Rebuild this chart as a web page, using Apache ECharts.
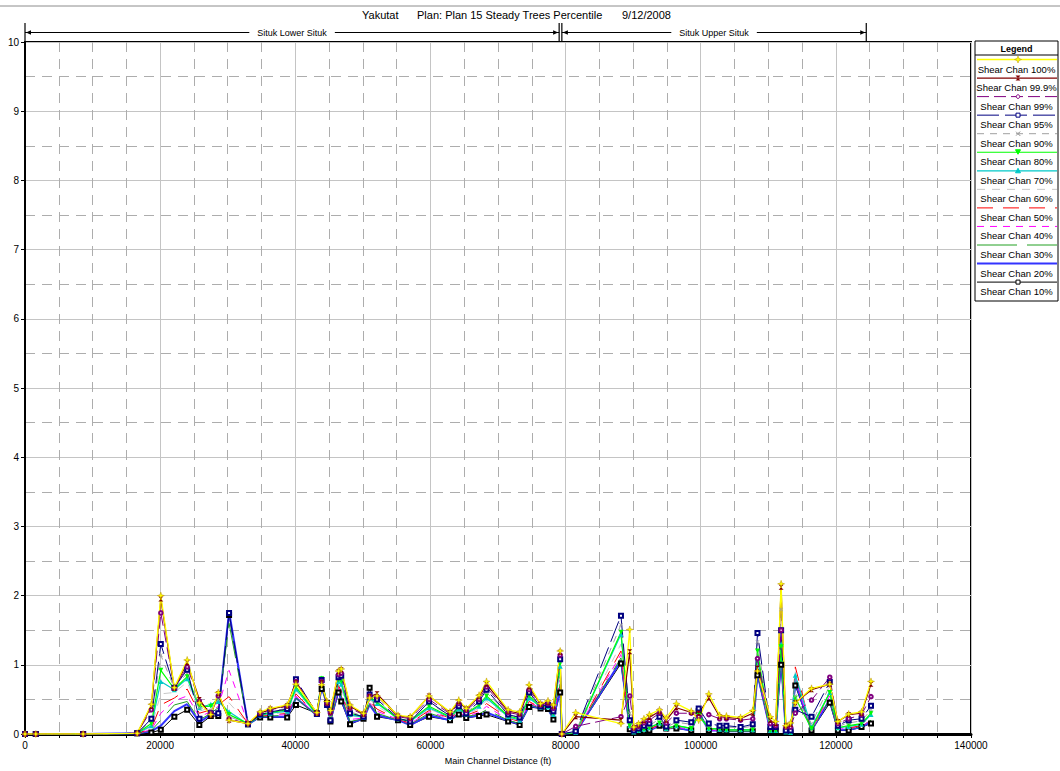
<!DOCTYPE html>
<html>
<head>
<meta charset="utf-8">
<script src="https://cdn.jsdelivr.net/npm/echarts@6/dist/echarts.min.js"></script>
<style>
html, body { margin: 0; padding: 0; background: #fff; }
#chart { width: 1060px; height: 771px; }
</style>
</head>
<body>
<div id="chart"></div>
<script>
// Cross-section stations along the main channel (ft)
const stations = [
  0, 1600, 8600, 16600, 18700, 20100, 22100, 24000, 25800, 27500,
  28600, 30200, 33000, 34800, 36300, 38800, 40100, 43200, 43900, 44700,
  45200, 46400, 46800, 48100, 50100, 51000, 52100, 55200, 57000, 59800,
  62900, 64200, 65300, 67200, 68300, 71500, 73200, 74600, 76300, 77400,
  78200, 79200, 79450, 81500, 88200, 89500, 90100, 90800, 91600, 92400,
  93900, 94900, 96400, 98600, 99700, 101200, 102800, 103800, 105900, 107700,
  108400, 110300, 111100, 111900, 112600, 113300, 114000, 116400, 119100, 120300,
  121900, 123800, 125200
];

// Channel shear (lb/sq ft) for each percentile profile
const shear100 = [
  0, 0, 0, 0.01, 0.43, 2.00, 0.67, 1.07, 0.45, 0.28,
  0.60, 0.20, 0.15, 0.32, 0.37, 0.42, 0.72, 0.31, 0.71, 0.47,
  0.34, 0.91, 0.94, 0.42, 0.30, 0.52, 0.55, 0.27, 0.25, 0.55,
  0.32, 0.49, 0.37, 0.56, 0.76, 0.35, 0.32, 0.71, 0.44, 0.48,
  0.42, 1.20, 0, 0.31, 0.15, 1.51, 0.10, 0.15, 0.22, 0.28,
  0.35, 0.23, 0.44, 0.33, 0.20, 0.58, 0.27, 0.26, 0.24, 0.34,
  0.91, 0.25, 0.18, 2.17, 0.12, 0.16, 0.45, 0.66, 0.72, 0.18,
  0.29, 0.32, 0.76
];
const shear99_9 = [
  0, 0, 0, 0.01, 0.40, 1.95, 0.66, 1.03, 0.50, 0.27,
  0.58, 0.20, 0.15, 0.30, 0.36, 0.41, 0.74, 0.30, 0.74, 0.45,
  0.32, 0.90, 0.93, 0.40, 0.29, 0.54, 0.58, 0.26, 0.24, 0.55,
  0.31, 0.47, 0.36, 0.54, 0.72, 0.33, 0.30, 0.68, 0.43, 0.46,
  0.40, 1.18, 0, 0.25, 0.20, 1.19, 0.09, 0.13, 0.19, 0.24,
  0.33, 0.20, 0.38, 0.31, 0.30, 0.52, 0.25, 0.24, 0.22, 0.30,
  0.95, 0.20, 0.15, 2.12, 0.12, 0.14, 0.45, 0.64, 0.72, 0.18,
  0.28, 0.30, 0.72
];
const shear99 = [
  0, 0, 0, 0.01, 0.35, 1.75, 0.66, 0.97, 0.48, 0.30,
  0.55, 0.22, 0.15, 0.30, 0.35, 0.40, 0.76, 0.30, 0.76, 0.44,
  0.30, 0.86, 0.88, 0.37, 0.28, 0.55, 0.54, 0.25, 0.22, 0.50,
  0.29, 0.44, 0.34, 0.50, 0.68, 0.31, 0.28, 0.64, 0.42, 0.44,
  0.37, 1.14, 0, 0.11, 0.25, 0.55, 0.08, 0.11, 0.16, 0.20,
  0.30, 0.16, 0.30, 0.30, 0.25, 0.28, 0.22, 0.22, 0.20, 0.22,
  1.09, 0.15, 0.12, 1.50, 0.10, 0.10, 0.30, 0.49, 0.82, 0.15,
  0.22, 0.28, 0.54
];
const shear95 = [
  0, 0, 0, 0.01, 0.22, 1.30, 0.67, 0.93, 0.22, 0.30,
  0.30, 1.75, 0.14, 0.28, 0.32, 0.36, 0.79, 0.29, 0.78, 0.42,
  0.20, 0.82, 0.84, 0.30, 0.25, 0.57, 0.50, 0.23, 0.18, 0.47,
  0.26, 0.40, 0.30, 0.47, 0.64, 0.28, 0.24, 0.60, 0.40, 0.42,
  0.33, 1.08, 0, 0.04, 1.71, 0.20, 0.05, 0.08, 0.12, 0.15,
  0.25, 0.11, 0.20, 0.17, 0.37, 0.15, 0.12, 0.12, 0.10, 0.14,
  1.46, 0.10, 0.10, 1.50, 0.05, 0.05, 0.35, 0.25, 0.75, 0.12,
  0.20, 0.22, 0.41
];
const shear90 = [
  0, 0, 0, 0.01, 0.20, 1.14, 0.66, 0.88, 0.38, 0.34,
  0.50, 0.25, 0.15, 0.29, 0.33, 0.37, 0.73, 0.29, 0.79, 0.43,
  0.26, 0.80, 0.80, 0.32, 0.26, 0.55, 0.48, 0.23, 0.20, 0.45,
  0.26, 0.40, 0.31, 0.45, 0.60, 0.28, 0.24, 0.58, 0.40, 0.41,
  0.32, 1.05, 0, 0.03, 1.58, 0.30, 0.05, 0.07, 0.10, 0.12,
  0.22, 0.10, 0.17, 0.14, 0.35, 0.12, 0.10, 0.10, 0.09, 0.11,
  1.33, 0.08, 0.08, 1.80, 0.05, 0.04, 0.55, 0.15, 0.70, 0.11,
  0.16, 0.19, 0.35
];
const shear80 = [
  0, 0, 0, 0.01, 0.15, 0.92, 0.65, 0.83, 0.40, 0.40,
  0.52, 0.28, 0.15, 0.28, 0.31, 0.35, 0.68, 0.28, 0.80, 0.42,
  0.25, 0.78, 0.76, 0.30, 0.25, 0.54, 0.46, 0.22, 0.19, 0.40,
  0.25, 0.38, 0.30, 0.42, 0.55, 0.26, 0.22, 0.55, 0.40, 0.40,
  0.30, 1.02, 0, 0.02, 1.47, 0.12, 0.03, 0.05, 0.07, 0.09,
  0.16, 0.08, 0.12, 0.08, 0.27, 0.08, 0.07, 0.06, 0.06, 0.06,
  1.20, 0.05, 0.05, 1.26, 0.03, 0.02, 0.52, 0.08, 0.60, 0.09,
  0.12, 0.15, 0.30
];
const shear70 = [
  0, 0, 0, 0.01, 0.12, 0.76, 0.64, 0.80, 0.38, 0.43,
  0.47, 0.32, 0.14, 0.27, 0.30, 0.33, 0.65, 0.28, 0.81, 0.42,
  0.24, 0.76, 0.72, 0.28, 0.24, 0.52, 0.44, 0.22, 0.18, 0.38,
  0.24, 0.36, 0.29, 0.40, 0.52, 0.25, 0.20, 0.52, 0.39, 0.39,
  0.28, 0.98, 0, 0.02, 1.44, 0.12, 0.03, 0.05, 0.07, 0.09,
  0.16, 0.08, 0.12, 0.08, 0.27, 0.08, 0.07, 0.06, 0.06, 0.06,
  1.10, 0.05, 0.05, 1.30, 0.03, 0.02, 0.85, 0.10, 0.60, 0.09,
  0.11, 0.14, 0.28
];
const shear60 = [
  0, 0, 0, 0.01, 0.10, 0.58, 0.60, 0.75, 0.33, 0.38,
  0.45, 0.45, 0.15, 0.27, 0.29, 0.31, 0.62, 0.28, 0.77, 0.41,
  0.23, 0.74, 0.66, 0.26, 0.24, 0.50, 0.40, 0.22, 0.17, 0.36,
  0.24, 0.34, 0.28, 0.37, 0.48, 0.24, 0.19, 0.50, 0.39, 0.38,
  0.27, 0.92, 0, 0.02, 1.30, 0.10, 0.02, 0.04, 0.06, 0.08,
  0.15, 0.08, 0.11, 0.07, 0.28, 0.07, 0.06, 0.06, 0.05, 0.05,
  1.05, 0.05, 0.05, 1.40, 0.03, 0.02, 0.90, 0.06, 0.60, 0.08,
  0.10, 0.13, 0.25
];
const shear50 = [
  0, 0, 0, 0.01, 0.08, 0.42, 0.52, 0.65, 0.30, 0.35,
  0.42, 0.54, 0.15, 0.26, 0.28, 0.30, 0.58, 0.27, 0.75, 0.41,
  0.22, 0.70, 0.62, 0.24, 0.23, 0.48, 0.36, 0.21, 0.16, 0.34,
  0.23, 0.33, 0.27, 0.34, 0.44, 0.23, 0.18, 0.47, 0.38, 0.37,
  0.26, 0.85, 0, 0.02, 1.20, 0.10, 0.02, 0.04, 0.05, 0.07,
  0.14, 0.08, 0.10, 0.07, 0.28, 0.07, 0.06, 0.05, 0.05, 0.05,
  1.00, 0.05, 0.05, 1.35, 0.03, 0.02, 0.97, 0.05, 0.60, 0.08,
  0.09, 0.12, 0.22
];
const shear40 = [
  0, 0, 0, 0.01, 0.06, 0.30, 0.48, 0.55, 0.25, 0.32,
  0.40, 0.92, 0.15, 0.26, 0.27, 0.28, 0.55, 0.27, 0.72, 0.40,
  0.21, 0.67, 0.58, 0.21, 0.23, 0.45, 0.33, 0.21, 0.15, 0.32,
  0.22, 0.31, 0.26, 0.31, 0.40, 0.21, 0.16, 0.45, 0.38, 0.37,
  0.24, 0.78, 0, 0.02, 1.15, 0.08, 0.02, 0.03, 0.05, 0.06,
  0.13, 0.08, 0.10, 0.06, 0.29, 0.06, 0.05, 0.05, 0.05, 0.05,
  0.95, 0.05, 0.05, 1.20, 0.03, 0.02, 0.80, 0.05, 0.55, 0.07,
  0.08, 0.11, 0.20
];
const shear30 = [
  0, 0, 0, 0.01, 0.05, 0.20, 0.42, 0.47, 0.20, 0.30,
  0.38, 1.60, 0.14, 0.25, 0.26, 0.27, 0.52, 0.26, 0.70, 0.40,
  0.20, 0.65, 0.55, 0.18, 0.22, 0.44, 0.30, 0.20, 0.14, 0.30,
  0.21, 0.30, 0.25, 0.29, 0.35, 0.20, 0.15, 0.43, 0.37, 0.36,
  0.23, 0.72, 0, 0.02, 1.10, 0.08, 0.02, 0.03, 0.04, 0.06,
  0.13, 0.08, 0.09, 0.06, 0.30, 0.06, 0.05, 0.04, 0.04, 0.04,
  0.90, 0.05, 0.05, 1.15, 0.02, 0.02, 0.80, 0.05, 0.50, 0.06,
  0.07, 0.11, 0.20
];
const shear20 = [
  0, 0, 0, 0.01, 0.04, 0.12, 0.33, 0.43, 0.17, 0.28,
  0.30, 1.77, 0.14, 0.25, 0.25, 0.25, 0.52, 0.27, 0.68, 0.42,
  0.20, 0.62, 0.50, 0.16, 0.22, 0.42, 0.27, 0.20, 0.13, 0.27,
  0.20, 0.29, 0.24, 0.27, 0.31, 0.19, 0.14, 0.41, 0.37, 0.36,
  0.22, 0.65, 0, 0.02, 1.06, 0.08, 0.02, 0.03, 0.04, 0.05,
  0.12, 0.08, 0.09, 0.05, 0.31, 0.05, 0.05, 0.04, 0.04, 0.04,
  0.87, 0.05, 0.05, 1.10, 0.02, 0.02, 0.75, 0.05, 0.50, 0.06,
  0.06, 0.10, 0.18
];
const shear10 = [
  0, 0, 0, 0.01, 0.02, 0.06, 0.25, 0.35, 0.13, 0.26,
  0.26, 1.72, 0.14, 0.24, 0.24, 0.24, 0.42, 0.30, 0.65, 0.45,
  0.18, 0.60, 0.47, 0.14, 0.22, 0.67, 0.25, 0.20, 0.13, 0.25,
  0.20, 0.28, 0.23, 0.26, 0.28, 0.18, 0.13, 0.39, 0.37, 0.36,
  0.21, 0.60, 0, 0.02, 1.02, 0.07, 0.02, 0.03, 0.04, 0.05,
  0.12, 0.08, 0.08, 0.05, 0.33, 0.05, 0.05, 0.04, 0.04, 0.04,
  0.85, 0.05, 0.05, 1.00, 0.02, 0.02, 0.70, 0.05, 0.45, 0.05,
  0.05, 0.10, 0.15
];

const profileNames = [
  'Shear Chan 100%', 'Shear Chan 99.9%', 'Shear Chan 99%', 'Shear Chan 95%',
  'Shear Chan 90%', 'Shear Chan 80%', 'Shear Chan 70%', 'Shear Chan 60%',
  'Shear Chan 50%', 'Shear Chan 40%', 'Shear Chan 30%', 'Shear Chan 20%',
  'Shear Chan 10%'
];
const profileValues = [
  shear100, shear99_9, shear99, shear95, shear90, shear80, shear70,
  shear60, shear50, shear40, shear30, shear20, shear10
];

// Reach extents along the main channel (ft)
const reachNames = ['Situk Lower Situk', 'Situk Upper Situk'];
const reachStart = [0, 79450];
const reachEnd = [79050, 124500];

const titleParts = ['Yakutat', 'Plan: Plan 15 Steady Trees Percentile', '9/12/2008'];
const xTitle = 'Main Channel Distance (ft)';

// Line and marker styles per profile
const FONT = '"Liberation Sans", Arial, sans-serif';
const profileStyles = [
  { color: '#ffff00', width: 1.3, dash: 'solid', mark: 'star', size: 7 },
  { color: '#800000', width: 1.2, dash: 'solid', mark: 'bowtie', size: 5 },
  { color: '#800080', width: 1, dash: [12, 5], mark: 'circle', size: 3.5 },
  { color: '#000080', width: 1, dash: [22, 6], mark: 'square', size: 4 },
  { color: '#a0a0a0', width: 1, dash: [7, 6], mark: 'cross', size: 4 },
  { color: '#00ff00', width: 1.2, dash: 'solid', mark: 'tridown', size: 5 },
  { color: '#00c8c8', width: 1.2, dash: 'solid', mark: 'triup', size: 5 },
  { color: '#c8c8c8', width: 1, dash: [8, 7], mark: 'none' },
  { color: '#ff0000', width: 1, dash: [16, 10], mark: 'none' },
  { color: '#ff00ff', width: 1, dash: [7, 6], mark: 'none' },
  { color: '#22a022', width: 1, dash: [40, 10], mark: 'none' },
  { color: '#3333ff', width: 2, dash: 'solid', mark: 'none' },
  { color: '#000000', width: 1, dash: 'solid', mark: 'square', size: 4 }
];

const SYMBOLS = {
  star: 'path://M5,0L6.2,3.8L10,5L6.2,6.2L5,10L3.8,6.2L0,5L3.8,3.8Z',
  bowtie: 'path://M0,0L10,0L0,10L10,10Z',
  circle: 'emptyCircle',
  square: 'emptyRect',
  cross: 'path://M0,1.2L1.2,0L5,3.8L8.8,0L10,1.2L6.2,5L10,8.8L8.8,10L5,6.2L1.2,10L0,8.8L3.8,5Z',
  tridown: 'path://M0,0L10,0L5,9Z',
  triup: 'triangle',
  none: 'none'
};
const HOLLOW = { circle: true, square: true };

const chart = echarts.init(document.getElementById('chart'), null, { renderer: 'svg' });

// Lowest percentile first so the high profiles sit on top
const series = [];
for (let i = profileNames.length - 1; i >= 0; i--) {
  const st = profileStyles[i];
  let itemStyle = { color: st.color };
  if (st.mark === 'star') itemStyle = { color: st.color, borderColor: '#b89000', borderWidth: 0.5 };
  if (HOLLOW[st.mark]) itemStyle = { color: st.color, borderWidth: 1 };
  series.push({
    name: profileNames[i],
    type: 'line',
    data: stations.map((x, k) => [x, profileValues[i][k]]),
    symbol: SYMBOLS[st.mark],
    symbolSize: st.size || 0,
    showSymbol: st.mark !== 'none',
    lineStyle: { color: st.color, width: st.width, type: st.dash },
    itemStyle: itemStyle,
    emphasis: { disabled: true },
    animation: false
  });
}

const gridLeft = 25, gridTop = 42, gridRight = 1060 - 971, gridBottom = 771 - 734;

chart.setOption({
  animation: false,
  backgroundColor: '#fff',
  grid: {
    left: gridLeft, top: gridTop, right: gridRight, bottom: gridBottom,
    show: true, borderColor: '#000', borderWidth: 2, backgroundColor: 'transparent'
  },
  xAxis: {
    type: 'value', min: 0, max: 140000, interval: 20000,
    name: xTitle, nameLocation: 'middle', nameGap: 22,
    nameTextStyle: { fontFamily: FONT, fontSize: 9, color: '#000' },
    axisLine: { show: true, onZero: false, lineStyle: { color: '#000', width: 3 } },
    axisTick: { show: true, length: 4, lineStyle: { color: '#000' } },
    minorTick: { show: true, splitNumber: 4, length: 4, lineStyle: { color: '#000' } },
    axisLabel: { fontFamily: FONT, fontSize: 10, color: '#000', margin: 6, formatter: v => String(v) },
    splitLine: { show: true, lineStyle: { color: '#c4c4c4', width: 1 } },
    minorSplitLine: { show: true, lineStyle: { color: '#adadad', width: 1, type: [10, 7] } }
  },
  yAxis: {
    type: 'value', min: 0, max: 10, interval: 1,
    axisLine: { show: true, lineStyle: { color: '#000', width: 2 } },
    axisTick: { show: true, length: 4, lineStyle: { color: '#000' } },
    axisLabel: { fontFamily: FONT, fontSize: 10, color: '#000', margin: 6, formatter: v => String(v) },
    splitLine: { show: true, lineStyle: { color: '#c4c4c4', width: 1 } },
    minorSplitLine: { show: true, lineStyle: { color: '#adadad', width: 1, type: [10, 7] } },
    minorTick: { show: false, splitNumber: 2 }
  },
  series: series
});

// Header, reach annotations and legend panel
const g = [];
g.push({ type: 'line', shape: { x1: 0, y1: 6, x2: 1060, y2: 6 }, style: { stroke: '#8c8c8c', lineWidth: 1 }, silent: true });
const titleX = [362, 417, 622];
titleParts.forEach((t, i) => {
  g.push({ type: 'text', x: titleX[i], y: 15, style: { text: t, font: '11px ' + FONT, fill: '#000', verticalAlign: 'middle' }, silent: true });
});

const yArrow = 32.5;
reachNames.forEach((name, i) => {
  const xa = chart.convertToPixel({ gridIndex: 0 }, [reachStart[i], 0])[0];
  const xb = chart.convertToPixel({ gridIndex: 0 }, [reachEnd[i], 0])[0];
  g.push({ type: 'line', shape: { x1: xa, y1: yArrow, x2: xb, y2: yArrow }, style: { stroke: '#000', lineWidth: 1 }, silent: true });
  g.push({ type: 'line', shape: { x1: xa, y1: 23, x2: xa, y2: 42 }, style: { stroke: '#000', lineWidth: 1.2 }, silent: true });
  g.push({ type: 'line', shape: { x1: xb, y1: 23, x2: xb, y2: 42 }, style: { stroke: '#000', lineWidth: 1.2 }, silent: true });
  g.push({ type: 'polygon', shape: { points: [[xa + 1, yArrow], [xa + 6, yArrow - 2.2], [xa + 6, yArrow + 2.2]] }, style: { fill: '#000' }, silent: true });
  g.push({ type: 'polygon', shape: { points: [[xb - 1, yArrow], [xb - 6, yArrow - 2.2], [xb - 6, yArrow + 2.2]] }, style: { fill: '#000' }, silent: true });
  g.push({
    type: 'text', x: (xa + xb) / 2, y: yArrow,
    style: { text: name, font: '9px ' + FONT, fill: '#000', align: 'center', verticalAlign: 'middle', backgroundColor: '#fff', padding: [1, 8] },
    silent: true
  });
});

// Legend box
const lx = 975, ly = 41, lw = 83, lh = 260, rowH = 18.55;
g.push({ type: 'rect', shape: { x: lx, y: ly, width: lw, height: lh }, style: { fill: '#fff', stroke: '#000', lineWidth: 1 }, silent: true });
g.push({ type: 'text', x: lx + lw / 2, y: 48.5, style: { text: 'Legend', font: 'bold 9px ' + FONT, fill: '#000', align: 'center', verticalAlign: 'middle' }, silent: true });
g.push({ type: 'line', shape: { x1: lx, y1: 55, x2: lx + lw, y2: 55 }, style: { stroke: '#000', lineWidth: 1 }, silent: true });

function legendMarker(kind, cx, cy, color) {
  const s = { fill: color, stroke: color, lineWidth: 1 };
  switch (kind) {
    case 'star':
      return { type: 'polygon', shape: { points: [[cx, cy - 3.5], [cx + 1, cy - 1], [cx + 3.5, cy], [cx + 1, cy + 1], [cx, cy + 3.5], [cx - 1, cy + 1], [cx - 3.5, cy], [cx - 1, cy - 1]] }, style: { fill: color, stroke: '#b89000', lineWidth: 0.5 } };
    case 'bowtie':
      return { type: 'polygon', shape: { points: [[cx - 2.5, cy - 2.5], [cx + 2.5, cy - 2.5], [cx - 2.5, cy + 2.5], [cx + 2.5, cy + 2.5]] }, style: { fill: color } };
    case 'circle':
      return { type: 'circle', shape: { cx: cx, cy: cy, r: 1.8 }, style: { fill: '#fff', stroke: color, lineWidth: 1 } };
    case 'square':
      return { type: 'rect', shape: { x: cx - 2, y: cy - 2, width: 4, height: 4 }, style: { fill: '#fff', stroke: color, lineWidth: 1 } };
    case 'cross':
      return { type: 'polyline', shape: { points: [[cx - 2, cy - 2], [cx + 2, cy + 2], [cx, cy], [cx + 2, cy - 2], [cx - 2, cy + 2]] }, style: { fill: null, stroke: color, lineWidth: 1 } };
    case 'tridown':
      return { type: 'polygon', shape: { points: [[cx - 2.5, cy - 2.5], [cx + 2.5, cy - 2.5], [cx, cy + 2]] }, style: s };
    case 'triup':
      return { type: 'polygon', shape: { points: [[cx - 2.5, cy + 2], [cx + 2.5, cy + 2], [cx, cy - 2.5]] }, style: s };
  }
  return null;
}

profileNames.forEach((name, i) => {
  const st = profileStyles[i];
  const yl = 59.5 + i * rowH;
  const yt = 69 + i * rowH;
  g.push({
    type: 'line', shape: { x1: lx + 2, y1: yl, x2: lx + lw - 1, y2: yl },
    style: { stroke: st.color, lineWidth: st.width, lineDash: st.dash === 'solid' ? null : st.dash }, silent: true
  });
  const m = legendMarker(st.mark, lx + 43, yl, st.color);
  if (m) { m.silent = true; g.push(m); }
  g.push({ type: 'text', x: lx + lw / 2, y: yt, style: { text: name, font: '9.5px ' + FONT, fill: '#000', align: 'center', verticalAlign: 'middle' }, silent: true });
});

chart.setOption({ graphic: g });
</script>
</body>
</html>
